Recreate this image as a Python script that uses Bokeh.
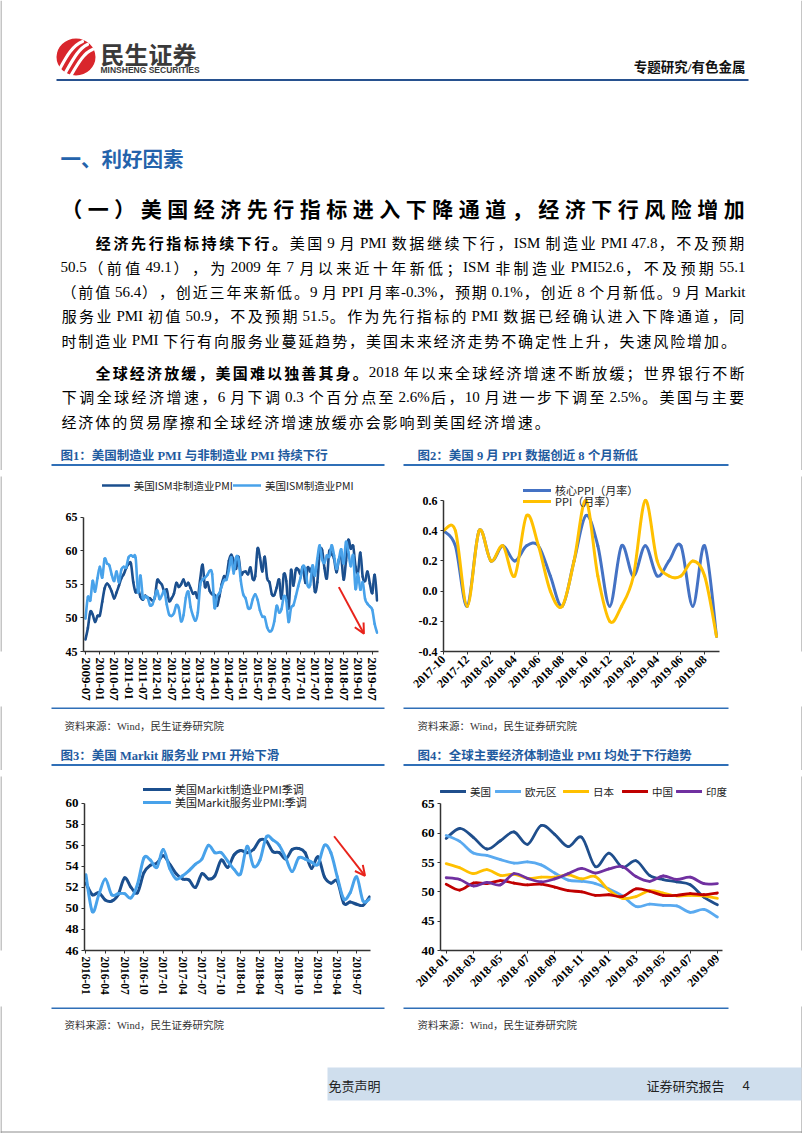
import numpy as np
from bokeh.plotting import figure
from bokeh.layouts import column, row
from bokeh.models import (Range1d, FixedTicker, Legend, LegendItem, Arrow, OpenHead,
                          ColumnDataSource, NumeralTickFormatter)
from bokeh.core.properties import value, field
from bokeh.embed import file_html
from bokeh.resources import INLINE

# ------------------------------------------------------------------ data
def month_list(y, m, n):
    out = []
    for i in range(n):
        yy = y + (m - 1 + i) // 12
        mm = (m - 1 + i) % 12 + 1
        out.append(f"{yy}-{mm:02d}")
    return out

# Fig 1: ISM PMI, 2009-07 .. 2019-09
months1 = month_list(2009, 7, 123)
ism_nonmfg = [
    46.8, 48.5, 50.9, 50.5, 49.4, 50.3,
    50.4, 52.4, 54.4, 55.1, 54.7, 53.9, 52.9, 53.8, 54.8, 55.9, 56.5, 57.4,
    58.0, 58.1, 55.3, 53.8, 54.3, 53.1, 52.7, 53.3, 53.0, 52.9, 52.6, 53.0,
    55.6, 55.3, 54.9, 53.9, 54.2, 52.5, 52.9, 53.6, 55.2, 54.6, 55.0, 55.7,
    54.8, 55.2, 54.4, 53.6, 53.8, 53.0, 55.8, 57.9, 54.6, 55.3, 54.0, 53.5,
    53.4, 51.8, 53.2, 55.0, 56.2, 56.1, 58.5, 59.4, 58.5, 57.3, 59.1, 56.5,
    56.8, 56.9, 56.5, 57.5, 55.8, 56.2, 60.3, 59.0, 56.9, 59.1, 55.9, 55.3,
    53.5, 53.4, 54.5, 55.7, 52.9, 56.5, 55.5, 51.4, 57.1, 54.8, 57.2, 57.2,
    56.5, 57.6, 55.2, 57.5, 56.9, 57.4, 53.9, 55.3, 59.8, 60.1, 57.4, 55.9,
    59.9, 59.5, 58.8, 56.8, 58.6, 59.1, 55.7, 58.5, 61.6, 60.3, 60.7, 57.6,
    56.7, 59.7, 56.1, 55.5, 56.9, 55.1, 53.7, 56.4, 52.6]
ism_mfg = [
    49.9, 53.1, 52.6, 55.5, 53.9, 55.9,
    57.6, 56.0, 58.8, 58.1, 57.8, 56.4, 55.5, 56.9, 55.3, 57.2, 57.6, 57.5,
    59.0, 59.3, 59.1, 58.9, 53.8, 56.3, 53.0, 53.2, 53.0, 51.9, 52.0, 53.1,
    54.1, 52.8, 53.4, 54.0, 52.0, 50.5, 50.3, 50.7, 51.9, 51.5, 49.5, 50.4,
    53.0, 53.9, 51.6, 50.3, 49.6, 50.8, 54.9, 55.7, 56.0, 56.4, 57.0, 56.5,
    51.5, 53.2, 53.7, 54.7, 55.6, 55.7, 57.1, 59.0, 56.6, 59.0, 58.7, 55.5,
    53.5, 52.9, 51.5, 51.5, 52.8, 53.5, 52.7, 51.1, 50.2, 50.1, 48.6, 48.0,
    48.2, 49.5, 51.8, 50.8, 51.3, 53.2, 52.6, 49.4, 51.5, 51.9, 53.2, 54.7,
    56.0, 57.7, 57.2, 54.8, 54.9, 57.8, 56.3, 58.8, 60.8, 58.7, 58.2, 59.3,
    59.1, 60.8, 59.3, 57.3, 58.7, 60.2, 58.1, 61.3, 59.8, 57.7, 59.3, 54.3,
    56.6, 54.2, 55.3, 52.8, 52.1, 51.7, 51.2, 49.1, 47.8]

# Fig 2: PPI m/m, 2017-10 .. 2019-09
months2 = month_list(2017, 10, 24)
core_ppi = [0.4, 0.3, -0.1, 0.4, 0.2, 0.3, 0.2, 0.3, 0.3, 0.1, -0.1, 0.2,
            0.5, 0.3, -0.1, 0.3, 0.1, 0.3, 0.1, 0.2, 0.3, -0.1, 0.3, -0.3]
ppi = [0.4, 0.4, -0.1, 0.4, 0.2, 0.3, 0.1, 0.5, 0.3, 0.0, -0.1, 0.2,
       0.6, 0.1, -0.2, -0.1, 0.1, 0.6, 0.2, 0.1, 0.1, 0.2, 0.1, -0.3]

# Fig 3: Markit PMI, 2016-01 .. 2019-09
months3 = month_list(2016, 1, 45)
markit_mfg = [52.4, 51.3, 51.5, 50.8, 50.7, 51.3, 52.9, 52.0, 51.5, 53.4, 54.1, 54.3,
              55.0, 54.2, 53.3, 52.8, 52.7, 52.0, 53.3, 52.8, 53.1, 54.6, 53.9, 55.1,
              55.5, 55.3, 55.6, 56.5, 56.4, 55.4, 55.3, 54.7, 55.6, 55.7, 55.3, 53.8,
              54.9, 53.0, 52.4, 52.6, 50.5, 50.6, 50.4, 50.3, 51.1]
markit_svc = [53.2, 49.7, 51.3, 52.8, 51.3, 51.4, 51.4, 51.0, 52.3, 54.8, 54.6, 53.9,
              55.6, 53.8, 52.8, 53.1, 53.6, 54.2, 54.7, 56.0, 55.3, 55.3, 54.5, 53.7,
              53.3, 55.9, 54.0, 54.6, 56.8, 56.5, 56.0, 54.8, 53.5, 54.8, 54.7, 54.4,
              54.2, 56.0, 55.3, 53.0, 50.9, 51.5, 53.0, 50.7, 50.9]

# Fig 4: manufacturing PMI of major economies, 2018-01 .. 2019-09
months4 = month_list(2018, 1, 21)
pmi_us = [59.1, 60.8, 59.3, 57.3, 58.7, 60.2, 58.1, 61.3, 59.8, 57.7, 59.3, 54.3,
          56.6, 54.2, 55.3, 52.8, 52.1, 51.7, 51.2, 49.1, 47.8]
pmi_ez = [59.6, 58.6, 56.6, 56.2, 55.5, 54.9, 55.1, 54.6, 53.2, 52.0, 51.8, 51.4,
          50.5, 49.3, 47.5, 47.9, 47.7, 47.6, 46.5, 47.0, 45.7]
pmi_jp = [54.8, 54.1, 53.1, 53.8, 52.8, 53.0, 52.3, 52.5, 52.5, 52.9, 52.2, 52.6,
          50.3, 48.9, 49.2, 50.2, 49.8, 49.3, 49.4, 49.3, 48.9]
pmi_cn = [51.3, 50.3, 51.5, 51.4, 51.9, 51.5, 51.2, 51.3, 50.8, 50.2, 50.0, 49.4,
          49.5, 49.2, 50.5, 50.1, 49.4, 49.4, 49.7, 49.5, 49.8]
pmi_in = [52.4, 52.1, 51.0, 51.6, 51.2, 53.1, 52.3, 51.7, 52.2, 53.1, 54.0, 53.2,
          53.9, 54.3, 52.6, 51.8, 52.7, 52.1, 52.5, 51.4, 51.4]

# ------------------------------------------------------------------ styles
CJK = "Noto Sans CJK SC"
LAT = "Liberation Serif"
MIX = "Liberation Serif, Noto Sans CJK SC"
TITLE_BLUE = "#1f5b9f"
RULE_BLUE = "#2f6fb7"

C_DARK = "#1b4f8e"
C_LIGHT = "#48a2ea"
C_CORE = "#4472c4"
C_PPI = "#ffc000"
C_US, C_EZ, C_JP, C_CN, C_IN = "#1f4e8c", "#5aaaf0", "#ffc000", "#c00000", "#7030a0"


def page_fig(x0, y0, w, h):
    p = figure(width=w, height=h, x_range=Range1d(x0, x0 + w), y_range=Range1d(y0 + h, y0),
               output_backend="svg", toolbar_location=None, min_border=0,
               x_axis_location=None, y_axis_location=None, outline_line_color=None)
    p.grid.visible = False
    p.background_fill_color = "white"
    p.border_fill_color = "white"
    p.segment(x0=[0.5, 801.5, 0], y0=[0, 0, 1131.5], x1=[0.5, 801.5, 802],
              y1=[1133, 1133, 1131.5], line_color="#8c8c8c", line_width=1)
    return p


def put_text(p, x, y, s, size, font=CJK, color="#000000", style="normal", align="left",
             baseline="middle"):
    p.text(x=[x], y=[y], text=[s], text_font=value(font), text_font_size=value(f"{size}px"),
           text_color=color, text_font_style=style, text_align=align, text_baseline=baseline)


TW = {" ": 0.25, ".": 0.25, "-": 0.333, "%": 0.833, "P": 0.556, "M": 0.889, "I": 0.333,
      "S": 0.556, "a": 0.444, "r": 0.333, "k": 0.5, "i": 0.278, "t": 0.278}
for _d in "0123456789":
    TW[_d] = 0.5


def lat_w(s, f):
    return sum(TW.get(c, 0.5) for c in s) * f


def layout_line(segs, x0, yc, f, pitch=None, x_end=None):
    cells = []
    for text, bold in segs:
        buf = ""
        for c in text:
            if ord(c) >= 0x2E80:
                if buf:
                    cells.append(("lat", buf, bold))
                    buf = ""
                cells.append(("cjk", c, bold))
            else:
                buf += c
        if buf:
            cells.append(("lat", buf, bold))
    n = sum(1 for c in cells if c[0] == "cjk")
    lw = sum(lat_w(c[1], f) for c in cells if c[0] == "lat")
    if x_end is not None:
        pitch = (x_end - x0 - lw) / n
    out = {"x": [], "y": [], "t": [], "font": [], "style": [], "align": []}
    x = x0
    yb = yc + 0.36 * f
    for kind, s, bold in cells:
        st = "bold" if bold else "normal"
        if kind == "cjk":
            out["x"].append(x + pitch / 2); out["t"].append(s); out["font"].append(CJK)
            out["align"].append("center")
            x += pitch
        else:
            lead = (len(s) - len(s.lstrip(" "))) * TW[" "] * f
            out["x"].append(x + lead); out["t"].append(s.strip()); out["font"].append(LAT)
            out["align"].append("left")
            x += lat_w(s, f)
        out["y"].append(yb); out["style"].append(st)
    return out


def draw_lines(p, items, f, color="#000000"):
    src = ColumnDataSource(items)
    p.text(x="x", y="y", text="t", source=src, text_font=field("font"),
           text_font_style=field("style"), text_align=field("align"),
           text_font_size=value(f"{f}px"), text_color=color, text_baseline="alphabetic")


def smooth(p, xs, ys, color, width):
    xs = np.asarray(xs, float)
    ys = np.asarray(ys, float)
    n = len(xs)
    xp = np.concatenate([[xs[0]], xs, [xs[-1]]])
    yp = np.concatenate([[ys[0]], ys, [ys[-1]]])
    src = ColumnDataSource(dict(
        x0=xs[:-1], y0=ys[:-1], x1=xs[1:], y1=ys[1:],
        cx0=xs[:-1] + (xp[2:n + 1] - xp[0:n - 1]) / 6.0,
        cy0=ys[:-1] + (yp[2:n + 1] - yp[0:n - 1]) / 6.0,
        cx1=xs[1:] - (xp[3:n + 2] - xp[1:n]) / 6.0,
        cy1=ys[1:] - (yp[3:n + 2] - yp[1:n]) / 6.0))
    return p.bezier(x0="x0", y0="y0", x1="x1", y1="y1", cx0="cx0", cy0="cy0", cx1="cx1",
                    cy1="cy1", source=src, line_color=color, line_width=width,
                    line_cap="round", line_join="round")


def chart_fig(w, h, xr, yr, ml, mr, mt, mb):
    p = figure(width=w, height=h, x_range=Range1d(*xr), y_range=Range1d(*yr),
               output_backend="svg", toolbar_location=None, min_border_left=ml,
               min_border_right=mr, min_border_top=mt, min_border_bottom=mb)
    p.grid.visible = False
    p.outline_line_color = None
    p.background_fill_color = "white"
    p.border_fill_color = "white"
    for ax in p.axis:
        ax.axis_line_color = "#333333"
        ax.axis_line_width = 1.5
        ax.major_tick_line_color = "#333333"
        ax.major_tick_line_width = 1
        ax.major_tick_in = 0
        ax.major_tick_out = 3
        ax.minor_tick_line_color = None
        ax.major_label_text_font = LAT
        ax.major_label_text_font_style = "bold"
        ax.major_label_text_color = "#000000"
        ax.major_label_standoff = 3
    return p


def add_leg(p, label, r, vx, vy, size=11, gw=28):
    lg = Legend(items=[LegendItem(label=label, renderers=[r])], location=(vx, vy),
                orientation="horizontal", padding=0, margin=0, spacing=0,
                glyph_width=gw, glyph_height=14, label_height=14, label_standoff=4,
                border_line_alpha=0, background_fill_alpha=0,
                label_text_font=CJK, label_text_font_size=f"{size}px",
                label_text_color="#222222")
    p.add_layout(lg, "center")


def red_arrow(p, xs, ys, xe, ye):
    p.add_layout(Arrow(end=OpenHead(size=10, line_color="#e8231b", line_width=2),
                       x_start=xs, y_start=ys, x_end=xe, y_end=ye,
                       line_color="#e8231b", line_width=2))

# ------------------------------------------------------------------ chart 1
x1 = list(range(len(months1)))
p1 = chart_fig(332, 236, (-0.84, 122.6), (45, 71.04), 31, 6, 6, 55)
r1a = smooth(p1, x1, ism_nonmfg, C_DARK, 2.6)
r1b = smooth(p1, x1, ism_mfg, C_LIGHT, 2.6)
p1.yaxis.ticker = FixedTicker(ticks=[45, 50, 55, 60, 65])
p1.yaxis.bounds = (45, 65)
p1.yaxis.major_label_text_font_size = "12px"
t1 = list(range(0, 121, 6))
p1.xaxis.ticker = FixedTicker(ticks=t1)
p1.xaxis.major_label_overrides = {i: months1[i] for i in t1}
p1.xaxis.major_label_orientation = "vertical"
p1.xaxis.major_label_text_font_size = "13px"
add_leg(p1, "美国ISM非制造业PMI", r1a, 18.7, 158.5, 10.5)
add_leg(p1, "美国ISM制造业PMI", r1b, 150, 158.5, 10.5)
red_arrow(p1, 106.0, 54.58, 116.5, 47.65)

# ------------------------------------------------------------------ chart 2
x2 = list(range(len(months2)))
p2 = chart_fig(325, 236, (0, 23.25), (-0.4, 0.759), 40, 9, 6, 55)
r2a = smooth(p2, x2, core_ppi, C_CORE, 3)
r2b = smooth(p2, x2, ppi, C_PPI, 3)
p2.yaxis.ticker = FixedTicker(ticks=[-0.4, -0.2, 0.0, 0.2, 0.4, 0.6])
p2.yaxis.formatter = NumeralTickFormatter(format="0.0")
p2.yaxis.bounds = (-0.4, 0.6)
p2.yaxis.major_label_text_font_size = "12px"
t2 = list(range(0, 24, 2))
p2.xaxis.ticker = FixedTicker(ticks=t2)
p2.xaxis.major_label_overrides = {i: months2[i] for i in t2}
p2.xaxis.major_label_orientation = np.pi / 4
p2.xaxis.major_label_text_font_size = "12px"
add_leg(p2, "核心PPI（月率）", r2a, 80, 153.0)
add_leg(p2, "PPI（月率）", r2b, 80, 142.3)

# ------------------------------------------------------------------ chart 3
x3 = list(range(len(months3)))
p3 = chart_fig(332, 236, (-0.22, 44.15), (46, 62.54), 32, 14, 6, 54)
r3a = smooth(p3, x3, markit_mfg, C_DARK, 3)
r3b = smooth(p3, x3, markit_svc, C_LIGHT, 3)
p3.yaxis.ticker = FixedTicker(ticks=[46, 48, 50, 52, 54, 56, 58, 60])
p3.yaxis.bounds = (46, 60)
p3.yaxis.major_label_text_font_size = "13px"
t3 = list(range(0, 45, 3))
p3.xaxis.ticker = FixedTicker(ticks=t3)
p3.xaxis.major_label_overrides = {i: months3[i] for i in t3}
p3.xaxis.major_label_orientation = "vertical"
p3.xaxis.major_label_text_font_size = "11.5px"
add_leg(p3, "美国Markit制造业PMI季调", r3a, 59, 153.5)
add_leg(p3, "美国Markit服务业PMI:季调", r3b, 59, 140.2)
red_arrow(p3, 38.5, 56.86, 43.3, 53.1)

# ------------------------------------------------------------------ chart 4
x4 = list(range(len(months4)))
p4 = chart_fig(325, 236, (-0.42, 20.82), (40, 69.66), 37, 0, 6, 56)
r4 = [smooth(p4, x4, s, c, 2.8) for s, c in
      [(pmi_us, C_US), (pmi_ez, C_EZ), (pmi_jp, C_JP), (pmi_cn, C_CN), (pmi_in, C_IN)]]
p4.yaxis.ticker = FixedTicker(ticks=[40, 45, 50, 55, 60, 65])
p4.yaxis.bounds = (40, 65)
p4.yaxis.major_label_text_font_size = "13px"
t4 = list(range(0, 21, 2))
p4.xaxis.ticker = FixedTicker(ticks=t4)
p4.xaxis.bounds = (-0.42, 20.37)
p4.xaxis.major_label_overrides = {i: months4[i] for i in t4}
p4.xaxis.major_label_orientation = np.pi / 4
p4.xaxis.major_label_text_font_size = "12px"
for lab, r, vx in zip(["美国", "欧元区", "日本", "中国", "印度"], r4, [0, 55, 123, 182, 236]):
    add_leg(p4, lab, r, vx, 151.5, 10.5, 26)

# ------------------------------------------------------------------ page band A (0..470)
A = page_fig(0, 0, 802, 470)
# logo
A.ellipse(x=[75.5], y=[56.5], width=[39], height=[37], fill_color="#d9262c", line_color=None)
A.bezier(x0=[60, 65, 71], y0=[67, 72, 74], x1=[82, 87, 92], y1=[41, 44, 49],
         cx0=[66, 72, 78], cy0=[56, 60, 62], cx1=[72, 78, 84], cy1=[45, 48, 52],
         line_color="white", line_width=3.2, line_cap="round")
put_text(A, 100, 53, "民生证券", 24, CJK, "#3a3a3a", "bold")
put_text(A, 100, 69.5, "MINSHENG SECURITIES", 8.5, "Liberation Sans", "#3a3a3a", "bold")
put_text(A, 745, 67, "专题研究/有色金属", 13.5, MIX, "#111111", "bold", "right")
A.segment(x0=[56], y0=[79.5], x1=[748], y1=[79.5], line_color="#27518f", line_width=2.2)

put_text(A, 60, 157, "一、利好因素", 20.5, CJK, "#2463ab", "bold")
sub = "（一）美国经济先行指标进入下降通道，经济下行风险增加"
sub_items = layout_line([(sub, True)], 58, 200, 21, x_end=747)
draw_lines(A, sub_items, 21)

BODY_F = 15
P1 = [
    [("经济先行指标持续下行。", True), ("美国 9 月 PMI 数据继续下行，ISM 制造业 PMI 47.8，不及预期", False)],
    [("50.5（前值 49.1），为 2009 年 7 月以来近十年新低；ISM 非制造业 PMI52.6，不及预期 55.1", False)],
    [("（前值 56.4），创近三年来新低。9 月 PPI 月率-0.3%，预期 0.1%，创近 8 个月新低。9 月 Markit", False)],
    [("服务业 PMI 初值 50.9，不及预期 51.5。作为先行指标的 PMI 数据已经确认进入下降通道，同", False)],
    [("时制造业 PMI 下行有向服务业蔓延趋势，美国未来经济走势不确定性上升，失速风险增加。", False)],
]
P2 = [
    [("全球经济放缓，美国难以独善其身。", True), ("2018 年以来全球经济增速不断放缓；世界银行不断", False)],
    [("下调全球经济增速，6 月下调 0.3 个百分点至 2.6%后，10 月进一步下调至 2.5%。美国与主要", False)],
    [("经济体的贸易摩擦和全球经济增速放缓亦会影响到美国经济增速。", False)],
]
y1s = [237, 261.3, 285.6, 309.9, 334.2]
y2s = [366.5, 390.8, 415.1]
allitems = {"x": [], "y": [], "t": [], "font": [], "style": [], "align": []}
for paras, ys in [(P1, y1s), (P2, y2s)]:
    for k, (segs, yc) in enumerate(zip(paras, ys)):
        x0 = 94 if k == 0 else 60
        last = (k == len(paras) - 1)
        it = layout_line(segs, x0, yc, BODY_F, pitch=16.9 if last else None,
                         x_end=None if last else 745)
        for key in allitems:
            allitems[key] += it[key]
draw_lines(A, allitems, BODY_F)

# chart titles
put_text(A, 60, 455, "图1：美国制造业 PMI 与非制造业 PMI 持续下行", 12.5, MIX, TITLE_BLUE, "bold")
put_text(A, 417, 455, "图2：美国 9 月 PPI 数据创近 8 个月新低", 12.5, MIX, TITLE_BLUE, "bold")
A.segment(x0=[51, 403], y0=[464.5, 464.5], x1=[384, 728], y1=[464.5, 464.5],
          line_color=RULE_BLUE, line_width=2)

# ------------------------------------------------------------------ band C (706..770)
C = page_fig(0, 706, 802, 64)
C.segment(x0=[51, 403], y0=[707.7, 707.7], x1=[384, 728], y1=[707.7, 707.7],
          line_color=RULE_BLUE, line_width=1.6)
put_text(C, 64, 725.5, "资料来源：Wind，民生证券研究院", 10.5, MIX, "#333333")
put_text(C, 417, 725.5, "资料来源：Wind，民生证券研究院", 10.5, MIX, "#333333")
put_text(C, 60, 755, "图3：美国 Markit 服务业 PMI 开始下滑", 12.5, MIX, TITLE_BLUE, "bold")
put_text(C, 417, 755, "图4：全球主要经济体制造业 PMI 均处于下行趋势", 12.5, MIX, TITLE_BLUE, "bold")
C.segment(x0=[51, 403], y0=[764.5, 764.5], x1=[384, 728], y1=[764.5, 764.5],
          line_color=RULE_BLUE, line_width=2)

# ------------------------------------------------------------------ band E (1006..1133)
E = page_fig(0, 1006, 802, 127)
E.segment(x0=[51, 403], y0=[1007.7, 1007.7], x1=[384, 728], y1=[1007.7, 1007.7],
          line_color=RULE_BLUE, line_width=1.6)
put_text(E, 64, 1025, "资料来源：Wind，民生证券研究院", 10.5, MIX, "#333333")
put_text(E, 417, 1025, "资料来源：Wind，民生证券研究院", 10.5, MIX, "#333333")
E.quad(left=[327], right=[801], top=[1067], bottom=[1100], fill_color="#cfdeed", line_color=None)
put_text(E, 328, 1085, "免责声明", 13, CJK, "#222222")
put_text(E, 646, 1085, "证券研究报告", 13, CJK, "#222222")
put_text(E, 742, 1085, "4", 13, "Liberation Sans", "#222222")

# ------------------------------------------------------------------ assemble
B = row(page_fig(0, 470, 52, 236), p1, page_fig(384, 470, 19, 236), p2,
        page_fig(728, 470, 74, 236), spacing=0)
D = row(page_fig(0, 770, 52, 236), p3, page_fig(384, 770, 19, 236), p4,
        page_fig(728, 770, 74, 236), spacing=0)
layout = column(A, B, C, D, E, spacing=0)

html = file_html(layout, INLINE, "民生证券")
html = html.replace("<head>", "<head><style>html,body{margin:0;padding:0;}</style>", 1)
open("out.html", "w").write(html)
